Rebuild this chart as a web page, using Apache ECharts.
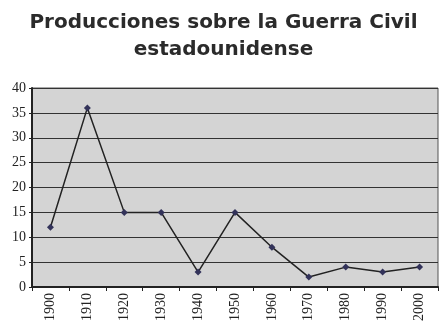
<!DOCTYPE html>
<html>
<head>
<meta charset="utf-8">
<script src="https://cdn.jsdelivr.net/npm/echarts@6/dist/echarts.min.js"></script>
<style>
  html, body { margin: 0; padding: 0; background: #fff; }
  #chart { width: 447px; height: 331px; }
</style>
</head>
<body>
<div id="chart"></div>
<script>
const decades = ['1900', '1910', '1920', '1930', '1940', '1950', '1960', '1970', '1980', '1990', '2000'];
const productions = [12, 36, 15, 15, 3, 15, 8, 2, 4, 3, 4];
const yTicks = [0, 5, 10, 15, 20, 25, 30, 35, 40];

const chart = echarts.init(document.getElementById('chart'));
chart.setOption({
    animation: false,
    title: {
        text: 'Producciones sobre la Guerra Civil\nestadounidense',
        left: 'center',
        top: 4,
        textStyle: {
            fontFamily: 'DejaVu Sans',
            fontWeight: 'bold',
            fontSize: 20,
            lineHeight: 27,
            color: '#2b2b2b'
        }
    },
    grid: {
        left: 32,
        right: 9,
        top: 88,
        bottom: 44,
        show: true,
        backgroundColor: '#d4d4d4',
        borderColor: '#555',
        borderWidth: 1
    },
    xAxis: {
        type: 'category',
        data: decades,
        boundaryGap: true,
        axisLine: { lineStyle: { color: '#222', width: 2 } },
        axisTick: { show: true, length: 4, lineStyle: { color: '#222' } },
        axisLabel: {
            rotate: 90,
            interval: 0,
            fontFamily: 'Liberation Serif',
            fontSize: 14,
            color: '#222',
            margin: 6
        }
    },
    yAxis: {
        type: 'value',
        min: yTicks[0],
        max: yTicks[yTicks.length - 1],
        interval: 5,
        axisLine: { show: true, lineStyle: { color: '#222', width: 2 } },
        axisTick: { show: true, length: 3, lineStyle: { color: '#222' } },
        axisLabel: {
            fontFamily: 'Liberation Serif',
            fontSize: 14,
            color: '#222',
            margin: 6
        },
        splitLine: { lineStyle: { color: '#333', width: 1 } }
    },
    series: [
        {
            type: 'line',
            data: productions,
            symbol: 'diamond',
            symbolSize: 7,
            lineStyle: { color: '#222', width: 1.5 },
            itemStyle: { color: '#33335a' }
        }
    ]
});
</script>
</body>
</html>
